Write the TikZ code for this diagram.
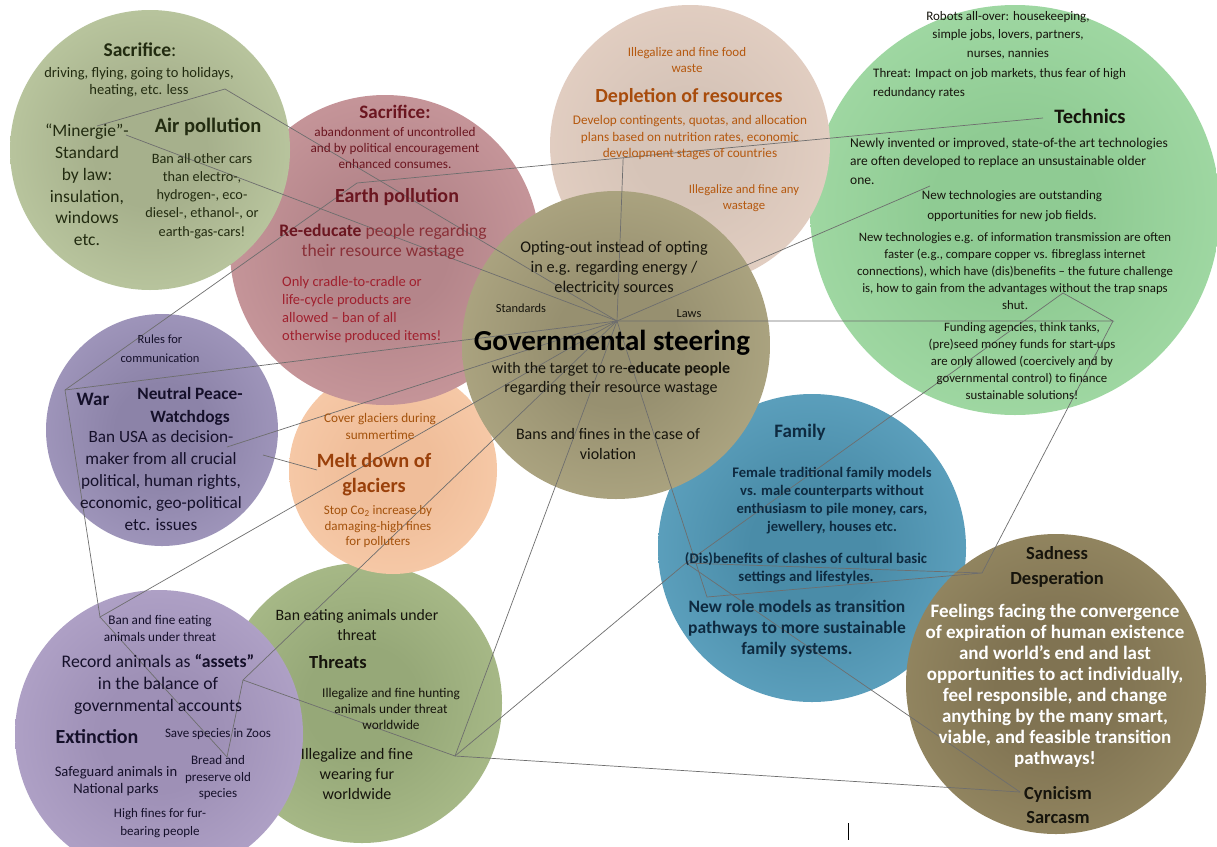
\documentclass[tikz,border=0pt]{standalone}
\usepackage{fontspec}
\setmainfont{Carlito}
\usetikzlibrary{calc}
% soft radial fill: darker core fading to a lighter rim
\pgfdeclareradialshading[softin,softout]{soft}{\pgfpoint{0bp}{0bp}}{color(0bp)=(softin); color(10bp)=(softin); color(44bp)=(softout); color(50bp)=(softout)}
\colorlet{softin}{gray}\colorlet{softout}{white}
\newcommand\fsz[2]{\fontsize{#1}{#2}\selectfont}
\definecolor{linegray}{HTML}{6E6E6E}
\definecolor{airtxt}{HTML}{222B10}
\definecolor{earthdark}{HTML}{6B1620}
\definecolor{earthmid}{HTML}{8A3038}
\definecolor{earthred}{HTML}{A0202E}
\definecolor{depltxt}{HTML}{B5580E}
\definecolor{deplhead}{HTML}{A84C0C}
\definecolor{meltxt}{HTML}{A4520C}
\definecolor{melthead}{HTML}{9A400A}
\definecolor{famtxt}{HTML}{0E2A40}
\definecolor{darktxt}{HTML}{16140C}
\definecolor{purptxt}{HTML}{15102A}
% bubble fills: core / rim
\definecolor{thrIn}{HTML}{96A878}\definecolor{thrOut}{HTML}{BACC98}
\definecolor{extIn}{HTML}{9E90B6}\definecolor{extOut}{HTML}{C2B4D8}
\definecolor{warIn}{HTML}{8C83A8}\definecolor{warOut}{HTML}{B4AAD0}
\definecolor{melIn}{HTML}{F0BE9A}\definecolor{melOut}{HTML}{FDD5B6}
\definecolor{earIn}{HTML}{B4858A}\definecolor{earOut}{HTML}{DAA8AB}
\definecolor{airIn}{HTML}{A6B08C}\definecolor{airOut}{HTML}{CEDDB2}
\definecolor{tecIn}{HTML}{8FCB93}\definecolor{tecOut}{HTML}{B2E6B4}
\definecolor{depIn}{HTML}{D6C4B8}\definecolor{depOut}{HTML}{EFD9CC}
\definecolor{famIn}{HTML}{4A8CA8}\definecolor{famOut}{HTML}{70B6D4}
\definecolor{govIn}{HTML}{979070}\definecolor{govOut}{HTML}{C2BA92}
\definecolor{sadIn}{HTML}{807352}\definecolor{sadOut}{HTML}{A69A70}
\begin{document}
\begin{tikzpicture}[x=1pt,y=-1pt,
  bubble/.style n args={3}{circle, inner sep=0pt, minimum size=#1pt,
    /utils/exec={\colorlet{softin}{#2}\colorlet{softout}{#3}}, shading=soft},
  txt/.style={inner sep=0pt, align=center},
  ltxt/.style={inner sep=0pt, align=left, anchor=west},
  link/.style={draw=linegray, line width=0.7pt}
]
\useasboundingbox (0,0) rectangle (1217,846);
\fill[white] (0,0) rectangle (1217,846);

% ---------- circles ----------
\node[bubble={280}{thrIn}{thrOut}] (cThreat) at (362,703) {};
\node[bubble={288}{extIn}{extOut}] (cExt) at (159,734) {};
\node[bubble={232}{warIn}{warOut}] (cWar) at (162,430) {};
\node[bubble={208}{melIn}{melOut}] (cMelt) at (393,470) {};
\node[bubble={310}{earIn}{earOut}] (cEarth) at (385,250) {};
\node[bubble={280}{airIn}{airOut}] (cAir) at (150,150) {};
\node[bubble={410}{tecIn}{tecOut}] (cTech) at (1015,210) {};
\node[bubble={280}{depIn}{depOut}] (cDepl) at (690,145) {};
\node[bubble={308}{famIn}{famOut}] (cFam) at (812,548) {};
\node[bubble={308}{govIn}{govOut}] (cGov) at (616,345) {};
\node[bubble={300}{sadIn}{sadOut}] (cSad) at (1056,684) {};

% ---------- connector points ----------
\coordinate (H) at (617,321);
\coordinate (A1) at (225,89);
\coordinate (M1) at (97,126);
\coordinate (M2) at (126,135);
\coordinate (V1) at (357,183);
\coordinate (T1) at (1043,118);
\coordinate (D1) at ($(V1)!0.388!(T1)$);
\coordinate (V2) at (65,390);
\coordinate (E1) at (100,617);
\coordinate (W1) at (227,447);
\coordinate (W2) at (263,455);
\coordinate (ML) at (317,470);
\coordinate (G1) at (243,680);
\coordinate (B1) at (227,757);
\coordinate (F1) at (455,756);
\coordinate (NT) at (930,186);
\coordinate (FU) at (1113,321);
\coordinate (TR) at (1063,293);
\coordinate (S1) at (982,573);
\coordinate (DB1) at (686,563);
\coordinate (DB2) at (707,597);
\coordinate (CY) at (1020,792);

% ---------- connectors ----------
\draw[link] (M1) -- (A1) -- (H);
\draw[link] (M2) -- (H);
\draw[link] (V2) -- (V1) -- (T1);
\draw[link] (D1) -- (H);
\draw[link] (V2) -- (H);
\draw[link] (V2) -- (E1) -- (H);
\draw[link] (E1) -- (B1);
\draw[link] (W1) -- (H);
\draw[link] (W2) -- (ML);
\draw[link] (B1) -- (G1) -- (H);
\draw[link] (G1) -- (F1) -- (H);
\draw[link] (NT) -- (H);
\draw[link] (H) -- (FU) -- (TR) -- (DB1);
\draw[link] (FU) -- (S1);
\draw[link] (H) -- (DB2) -- (S1) -- (DB1);
\draw[link] (DB1) -- (CY);
\draw[link] (F1) -- (DB1);
\draw[link] (F1) -- (CY);

% ---------- air pollution ----------
\node[txt, font=\fsz{19.5}{22}\bfseries, text=airtxt] (airSac) at (140,50) {Sacrifice\textmd{:}};
\node[txt, font=\fsz{14.5}{17.5}, text=airtxt] (airSacT) at (139,82) {driving, flying, going to holidays,\\heating, etc. less};
\node[txt, font=\fsz{17.5}{21.8}, text=airtxt] (airMin) at (87,185) {“Minergie”-\\Standard\\by law:\\insulation,\\windows\\etc.};
\node[txt, font=\fsz{20.5}{22}\bfseries, text=airtxt] (airHead) at (208,127) {Air pollution};
\node[txt, font=\fsz{14.3}{18.2}, text=airtxt] (airBan) at (202,196) {Ban all other cars\\than electro-,\\hydrogen-, eco-\\diesel-, ethanol-, or\\earth-gas-cars!};

% ---------- earth pollution ----------
\node[txt, font=\fsz{19}{21}\bfseries, text=earthdark] (earSac) at (395,112) {Sacrifice:};
\node[txt, font=\fsz{13.2}{16}, text=earthdark] (earSacT) at (395,148) {abandonment of uncontrolled\\and by political encouragement\\enhanced consumes.};
\node[txt, font=\fsz{20}{22}\bfseries, text=earthdark] (earHead) at (397,197) {Earth pollution};
\node[txt, font=\fsz{17.6}{20.5}, text=earthmid] (earRe) at (383,242) {\textcolor{earthdark}{\bfseries Re-educate} people regarding\\their resource wastage};
\node[ltxt, font=\fsz{14.5}{18}, text=earthred] (earOnly) at (282,310) {Only cradle-to-cradle or\\life-cycle products are\\allowed – ban of all\\otherwise produced items!};

% ---------- depletion of resources ----------
\node[txt, font=\fsz{13}{16}, text=depltxt] (depFood) at (687,60) {Illegalize and fine food\\waste};
\node[txt, font=\fsz{20}{22}\bfseries, text=deplhead] (depHead) at (689,97) {Depletion of resources};
\node[txt, font=\fsz{13.2}{16.5}, text=depltxt] (depDev) at (690,138) {Develop contingents, quotas, and allocation\\plans based on nutrition rates, economic\\development stages of countries};
\node[txt, font=\fsz{12.7}{15.5}, text=depltxt] (depAny) at (744,198) {Illegalize and fine any\\wastage};

% ---------- technics ----------
\node[txt, font=\fsz{13}{18.5}, text=darktxt] (tecRob) at (1008,35) {Robots all-over: housekeeping,\\simple jobs, lovers, partners,\\nurses, nannies};
\node[ltxt, font=\fsz{13}{19}, text=darktxt] (tecThr) at (873,83.5) {Threat: Impact on job markets, thus fear of high\\redundancy rates};
\node[txt, font=\fsz{20.5}{22}\bfseries, text=darktxt] (tecHead) at (1090,116) {Technics};
\node[ltxt, font=\fsz{13.5}{18.5}, text=darktxt] (tecNew) at (850,161) {Newly invented or improved, state-of-the art technologies\\are often developed to replace an unsustainable older\\one.};
\node[txt, font=\fsz{13}{20}, text=darktxt] (tecJob) at (1012,206) {New technologies are outstanding\\opportunities for new job fields.};
\node[txt, font=\fsz{12.8}{17}, text=darktxt] (tecInf) at (1015,271) {New technologies e.g. of information transmission are often\\faster (e.g., compare copper vs. fibreglass internet\\connections), which have (dis)benefits – the future challenge\\is, how to gain from the advantages without the trap snaps\\shut.};
\node[txt, font=\fsz{12.8}{17}, text=darktxt] (tecFun) at (1022,361) {Funding agencies, think tanks,\\(pre)seed money funds for start-ups\\are only allowed (coercively and by\\governmental control) to finance\\sustainable solutions!};

% ---------- governmental steering ----------
\node[txt, font=\fsz{16.3}{20}, text=darktxt] (govOpt) at (614,268) {Opting-out instead of opting\\in e.g. regarding energy /\\electricity sources};
\node[txt, font=\fsz{12.4}{14}, text=darktxt] (govStd) at (521,308) {Standards};
\node[txt, font=\fsz{12.4}{14}, text=darktxt] (govLaw) at (689,314) {Laws};
\node[txt, font=\fsz{29}{32}\bfseries, text=black] (govHead) at (612,343) {Governmental steering};
\node[txt, font=\fsz{16}{19.5}, text=darktxt] (govTgt) at (611,379) {with the target to re-\textbf{educate people}\\regarding their resource wastage};
\node[txt, font=\fsz{16}{19.5}, text=darktxt] (govBan) at (608,444) {Bans and fines in the case of\\violation};

% ---------- war ----------
\node[txt, font=\fsz{12.5}{19}, text=purptxt] (warRul) at (160,349) {Rules for\\communication};
\node[txt, font=\fsz{19}{21}\bfseries, text=purptxt] (warHead) at (93,399) {War};
\node[txt, font=\fsz{17.3}{23}\bfseries, text=purptxt] (warPea) at (190,406) {Neutral Peace-\\Watchdogs};
\node[txt, font=\fsz{17.2}{22}, text=purptxt] (warBan) at (161,481) {Ban USA as decision-\\maker from all crucial\\political, human rights,\\economic, geo-political\\etc. issues};

% ---------- melt down of glaciers ----------
\node[txt, font=\fsz{13.2}{17}, text=meltxt] (melCov) at (380,426) {Cover glaciers during\\summertime};
\node[txt, font=\fsz{20.3}{25}\bfseries, text=melthead] (melHead) at (374,475) {Melt down of\\glaciers};
\node[txt, font=\fsz{13}{15.5}, text=meltxt] (melCo) at (378,527) {Stop Co\textsubscript{2} increase by\\damaging-high fines\\for polluters};

% ---------- threats ----------
\node[txt, font=\fsz{15.8}{20}, text=darktxt] (thrBan) at (357,625) {Ban eating animals under\\threat};
\node[txt, font=\fsz{18.5}{20}\bfseries, text=darktxt] (thrHead) at (338,662) {Threats};
\node[txt, font=\fsz{13.3}{16}, text=darktxt] (thrHun) at (391,709) {Illegalize and fine hunting\\animals under threat\\worldwide};
\node[txt, font=\fsz{16}{20}, text=darktxt] (thrFur) at (357,774) {Illegalize and fine\\wearing fur\\worldwide};

% ---------- extinction ----------
\node[txt, font=\fsz{13.2}{17}, text=purptxt] (extBan) at (160,628) {Ban and fine eating\\animals under threat};
\node[txt, font=\fsz{17.7}{22}, text=purptxt] (extRec) at (158,684) {Record animals as \textbf{“assets”}\\in the balance of\\governmental accounts};
\node[txt, font=\fsz{20}{22}\bfseries, text=purptxt] (extHead) at (97,737) {Extinction};
\node[txt, font=\fsz{13}{15}, text=purptxt] (extZoo) at (218,734) {Save species in Zoos};
\node[txt, font=\fsz{14.6}{17}, text=purptxt] (extSaf) at (116,781) {Safeguard animals in\\National parks};
\node[txt, font=\fsz{13}{16.5}, text=purptxt] (extBre) at (218,778) {Bread and\\preserve old\\species};
\node[txt, font=\fsz{13}{18}, text=purptxt] (extFur) at (160,823) {High fines for fur-\\bearing people};

% ---------- family ----------
\node[txt, font=\fsz{19}{21}\bfseries, text=famtxt] (famHead) at (800,432) {Family};
\node[txt, font=\fsz{14.6}{18}\bfseries, text=famtxt] (famFem) at (832,501) {Female traditional family models\\vs. male counterparts without\\enthusiasm to pile money, cars,\\jewellery, houses etc.};
\node[txt, font=\fsz{14.8}{18}\bfseries, text=famtxt] (famDis) at (806,568) {(Dis)benefits of clashes of cultural basic\\settings and lifestyles.};
\node[txt, font=\fsz{17.5}{21}\bfseries, text=famtxt] (famNew) at (797,629) {New role models as transition\\pathways to more sustainable\\family systems.};

% ---------- sadness ----------
\node[txt, font=\fsz{18.5}{25}\bfseries, text=darktxt] (sadHead) at (1057,567) {Sadness\\Desperation};
\node[txt, font=\fsz{19}{21}\bfseries, text=white] (sadFeel) at (1055,686) {Feelings facing the convergence\\of expiration of human existence\\and world’s end and last\\opportunities to act individually,\\feel responsible, and change\\anything by the many smart,\\viable, and feasible transition\\pathways!};
\node[txt, font=\fsz{18.5}{24}\bfseries, text=darktxt] (sadCyn) at (1058,805) {Cynicism\\Sarcasm};

% small stray tick at the bottom
\draw[line width=1pt] (848,823) -- (848,840);
\end{tikzpicture}
\end{document}
